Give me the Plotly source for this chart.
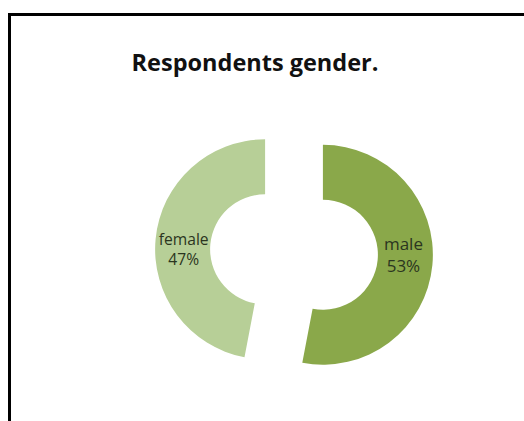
import plotly.graph_objects as go

# Survey breakdown by gender
labels = ["male", "female"]
values = [53, 47]
colors = ["#8aa84a", "#b7cf97"]

W, H = 524, 421

fig = go.Figure(
    go.Pie(
        labels=labels,
        values=values,
        sort=False,
        direction="clockwise",
        rotation=0,
        hole=0.5,
        pull=[0.264, 0.264],
        marker=dict(colors=colors, line=dict(width=0)),
        texttemplate="%{label}<br>%{percent:.0%}",
        textposition="inside",
        insidetextorientation="horizontal",
        textfont=dict(family="Open Sans, Liberation Sans, sans-serif", size=17, color="#2b3520"),
        domain=dict(x=[155 / W, 433 / W], y=[1 - 391 / H, 1 - 113 / H]),
        showlegend=False,
        hoverinfo="label+percent",
    )
)

fig.update_layout(
    width=W,
    height=H,
    margin=dict(l=0, r=0, t=0, b=0),
    paper_bgcolor="white",
    plot_bgcolor="white",
    title=dict(
        text="<b>Respondents gender.</b>",
        x=255 / W,
        xanchor="center",
        y=1 - 63 / H,
        yanchor="middle",
        font=dict(family="Open Sans, Liberation Sans, sans-serif", size=23.5, color="#111111"),
    ),
    shapes=[
        # frame: top and left edges
        dict(type="line", xref="paper", yref="paper",
             x0=8 / W, x1=1, y0=1 - 14.5 / H, y1=1 - 14.5 / H,
             line=dict(color="black", width=3)),
        dict(type="line", xref="paper", yref="paper",
             x0=9.5 / W, x1=9.5 / W, y0=0, y1=1 - 13 / H,
             line=dict(color="black", width=3)),
    ],
)

fig.write_html("out.html")
